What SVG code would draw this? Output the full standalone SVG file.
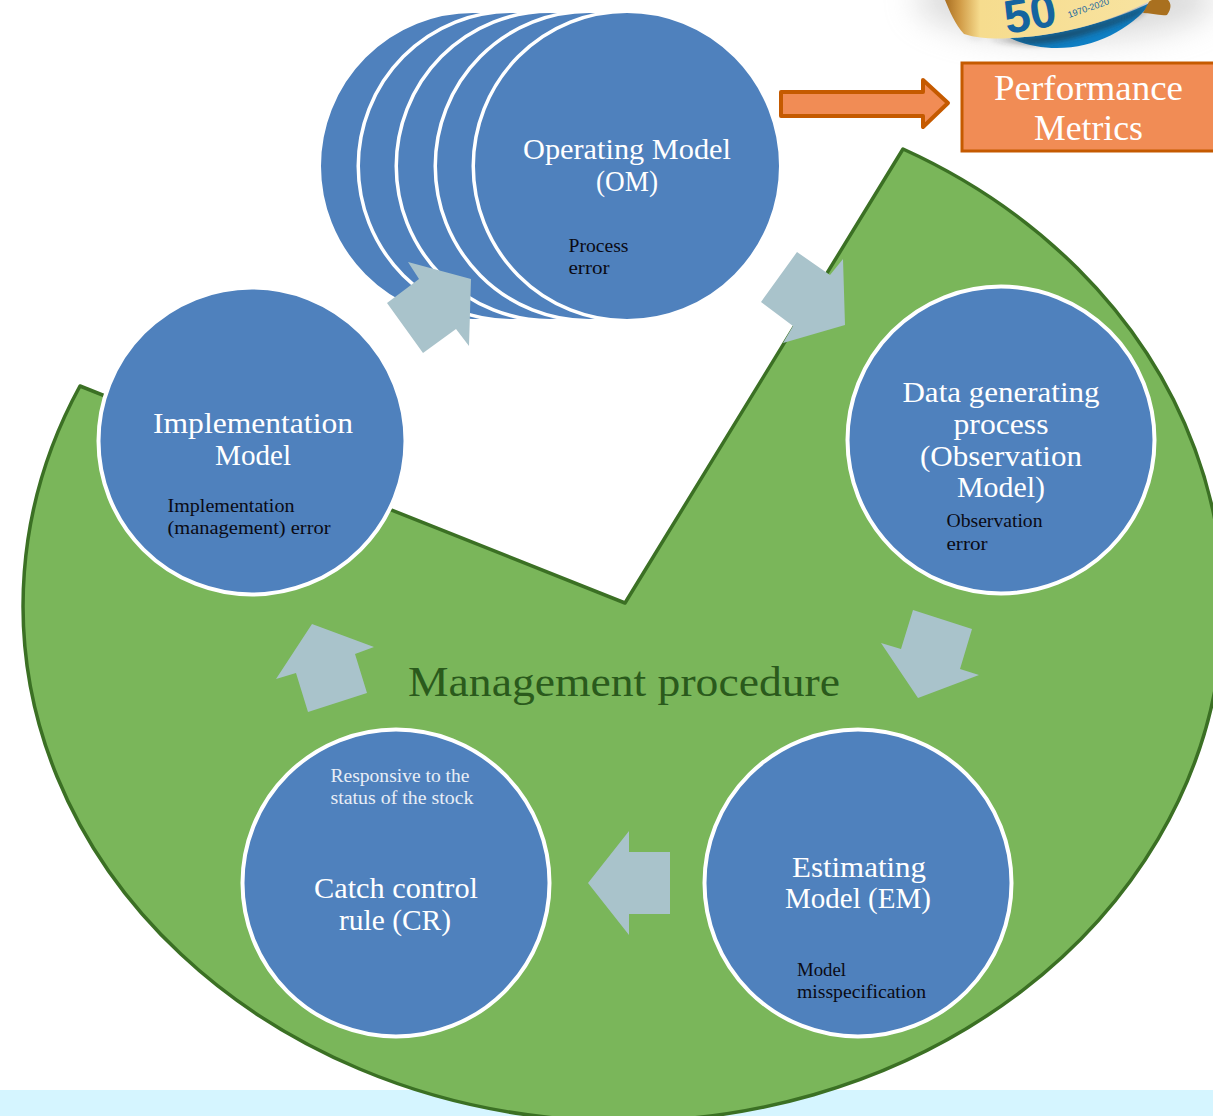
<svg xmlns="http://www.w3.org/2000/svg" width="1213" height="1116" viewBox="0 0 1213 1116">
<style>
text{font-family:"Liberation Serif","Times New Roman",serif}
.c{fill:#4f81bd;stroke:#fff;stroke-width:4}
.o{fill:#4f81bd;stroke:#fff;stroke-width:3.5}
.t{fill:#fff;font-size:30px;text-anchor:middle}
.s{fill:#0a0a14;font-size:18.5px}
.w{fill:#e8eef6;font-size:18.5px}
.a{fill:#a9c3cb}
</style>
<defs>
<filter id="blur" x="-30%" y="-60%" width="160%" height="220%"><feGaussianBlur stdDeviation="16"/></filter>
<filter id="blur2" x="-10%" y="-50%" width="120%" height="200%"><feGaussianBlur stdDeviation="3"/></filter>
<linearGradient id="gold" x1="0" y1="0" x2="1" y2="0">
<stop offset="0" stop-color="#a96f22"/><stop offset=".07" stop-color="#d09a45"/><stop offset=".17" stop-color="#f6dc8e"/><stop offset="1" stop-color="#f8e3a0"/>
</linearGradient>
</defs>
<rect id="background" width="1213" height="1116" fill="#fff"/>
<rect id="band" x="0" y="1090" width="1213" height="26" fill="#d5f5ff"/>
<g id="badge">
<ellipse cx="1065" cy="0" rx="150" ry="40" fill="#b8b8b8" opacity=".5" filter="url(#blur)"/>
<path d="M1010,38 C1060,36 1110,22 1152,2 C1130,30 1095,48 1057,48 C1040,48 1022,44 1010,38Z" fill="#0f7fc4"/>
<path d="M966,36 C980,41 1060,44 1150,4 L1140,14 C1105,30 1060,44 1030,44Z" fill="#222" opacity=".55" filter="url(#blur2)"/>
<path d="M1143,13 C1150,13 1160,16 1167,15 C1172,8 1171,3 1168,0 L1150,0Z" fill="#a9701f"/>
<path d="M945,0 L1152,0 C1110,22 1060,36 1010,38 C995,39 980,39 964,34 C955,24 950,12 945,0Z" fill="url(#gold)"/>
<text x="1007" y="34" font-size="47" font-weight="700" fill="#14649f" transform="rotate(-10 1007 34)" style="font-family:'Liberation Sans',sans-serif">50</text>
<text x="1069" y="18" font-size="9" fill="#14649f" transform="rotate(-19 1069 18)" style="font-family:'Liberation Sans',sans-serif">1970-2020</text>
</g>
<path id="management-procedure" d="M625,603 L903,149 A600,516 0 1 1 80,386 Z" fill="#7ab65a" stroke="#3b7024" stroke-width="3.500" stroke-linejoin="round"/>
<g id="om-stack">
<ellipse class="o" cx="473" cy="166" rx="153.750" ry="154.750"/>
<ellipse class="o" cx="512" cy="166" rx="153.750" ry="154.750"/>
<ellipse class="o" cx="550" cy="166" rx="153.750" ry="154.750"/>
<ellipse class="o" cx="589" cy="166" rx="153.750" ry="154.750"/>
</g>
<g id="operating-model">
<ellipse class="o" cx="627" cy="166" rx="153.750" ry="154.750"/>
<text class="t" x="627" y="159" textLength="208" lengthAdjust="spacingAndGlyphs">Operating Model</text>
<text class="t" x="627" y="191" textLength="62" lengthAdjust="spacingAndGlyphs">(OM)</text>
<text class="s" x="568.500" y="252" textLength="60" lengthAdjust="spacingAndGlyphs">Process</text>
<text class="s" x="568.500" y="274" textLength="41" lengthAdjust="spacingAndGlyphs">error</text>
</g>
<g id="data-generating-process">
<circle class="c" cx="1001" cy="440" r="153.500"/>
<text class="t" x="1001" y="402" textLength="197" lengthAdjust="spacingAndGlyphs">Data generating</text>
<text class="t" x="1001" y="434" textLength="95" lengthAdjust="spacingAndGlyphs">process</text>
<text class="t" x="1001" y="466" textLength="162" lengthAdjust="spacingAndGlyphs">(Observation</text>
<text class="t" x="1001" y="497" textLength="88" lengthAdjust="spacingAndGlyphs">Model)</text>
<text class="s" x="946.500" y="527" textLength="96" lengthAdjust="spacingAndGlyphs">Observation</text>
<text class="s" x="946.500" y="550" textLength="41" lengthAdjust="spacingAndGlyphs">error</text>
</g>
<g id="estimating-model">
<circle class="c" cx="858" cy="883" r="153.500"/>
<text class="t" x="859" y="877" textLength="134" lengthAdjust="spacingAndGlyphs">Estimating</text>
<text class="t" x="858" y="908" textLength="146" lengthAdjust="spacingAndGlyphs">Model (EM)</text>
<text class="s" x="797" y="976" textLength="49" lengthAdjust="spacingAndGlyphs">Model</text>
<text class="s" x="797" y="998" textLength="129" lengthAdjust="spacingAndGlyphs">misspecification</text>
</g>
<g id="catch-control-rule">
<circle class="c" cx="396" cy="883" r="153.500"/>
<text class="w" x="330.500" y="782" textLength="139" lengthAdjust="spacingAndGlyphs">Responsive to the</text>
<text class="w" x="330.500" y="804" textLength="143" lengthAdjust="spacingAndGlyphs">status of the stock</text>
<text class="t" x="396" y="898" textLength="164" lengthAdjust="spacingAndGlyphs">Catch control</text>
<text class="t" x="395" y="930" textLength="112" lengthAdjust="spacingAndGlyphs">rule (CR)</text>
</g>
<g id="implementation-model">
<circle class="c" cx="252" cy="441" r="153.500"/>
<text class="t" x="253" y="433" textLength="200" lengthAdjust="spacingAndGlyphs">Implementation</text>
<text class="t" x="253" y="465" textLength="76" lengthAdjust="spacingAndGlyphs">Model</text>
<text class="s" x="167.500" y="512" textLength="127" lengthAdjust="spacingAndGlyphs">Implementation</text>
<text class="s" x="167.500" y="534" textLength="163" lengthAdjust="spacingAndGlyphs">(management) error</text>
</g>
<text id="management-label" x="624" y="696" font-size="42" fill="#2a5a1c" text-anchor="middle" textLength="432" lengthAdjust="spacingAndGlyphs">Management procedure</text>
<g id="connectors">
<polygon class="a" points="408,262 471,279 469,346 456,329 423,353 387,303 419,279"/>
<polygon class="a" points="797,252 830,275 843,259 845,325 783,343 793,326 761,302"/>
<polygon class="a" points="913,610 972,629 960,669 979,675 918,698 881,643 901,649"/>
<polygon class="a" points="629,831 629,852 670,852 670,914 629,914 629,935 588,883"/>
<polygon class="a" points="312,624 374,647 355,654 367,693 308,712 296,673 276,679"/>
<polygon points="781,92 923,92 923,80 948,103 923,127 923,116 781,116" fill="#f18c55" stroke="#c55a00" stroke-width="4" stroke-linejoin="round"/>
</g>
<g id="performance-metrics">
<rect x="962" y="63" width="260" height="88" fill="#f18c55" stroke="#c55a00" stroke-width="3"/>
<text x="1088.500" y="100" font-size="35" fill="#fff" text-anchor="middle" textLength="189" lengthAdjust="spacingAndGlyphs">Performance</text>
<text x="1088.500" y="140" font-size="35" fill="#fff" text-anchor="middle" textLength="109" lengthAdjust="spacingAndGlyphs">Metrics</text>
</g>
</svg>
